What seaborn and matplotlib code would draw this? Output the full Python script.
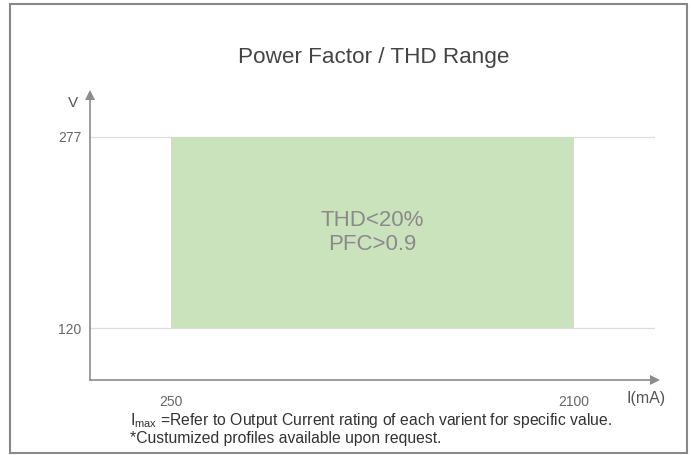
import matplotlib
matplotlib.use("Agg")
import matplotlib.pyplot as plt
import seaborn as sns
import pandas as pd
from matplotlib.patches import Rectangle

# data
current_range = [250, 2100]      # mA
voltage_range = [120, 277]       # V
box_text = ["THD<20%", "PFC>0.9"]
title = "Power Factor / THD Range"
notes = ["=Refer to Output Current rating of each varient for specific value.",
         "*Custumized profiles available upon request."]

sns.set_style("white")
plt.rcParams['font.family'] = ['Liberation Sans', 'DejaVu Sans']
plt.rcParams['mathtext.fontset'] = 'custom'
plt.rcParams['mathtext.rm'] = 'Liberation Sans'

axis_grey = "#8c8c8c"
text_grey = "#666666"

fig = plt.figure(figsize=(6.92, 4.55), dpi=100)
ax = fig.add_axes([90 / 692, 1 - 380 / 455, 565 / 692, 285 / 455])

# green operating area
df = pd.DataFrame({"I": current_range, "V_low": [voltage_range[0]] * 2,
                   "V_high": [voltage_range[1]] * 2})
ax.fill_between(df["I"], df["V_low"], df["V_high"], color="#cbe3bd", lw=0, zorder=2)

ax.set_xlim(-122, 2472)
ax.set_ylim(77.3, 311.5)
ax.set_xticks(current_range)
ax.set_yticks(voltage_range)
ax.set_xticklabels([str(v) for v in current_range])
ax.set_yticklabels([str(v) for v in voltage_range])
ax.tick_params(axis="both", length=0, labelsize=10, labelcolor=text_grey)
ax.tick_params(axis="x", pad=11)
ax.tick_params(axis="y", pad=6)
ax.yaxis.grid(True, color="#dddddd", lw=0.9, zorder=1)
ax.xaxis.grid(False)

for s in ["top", "right"]:
    ax.spines[s].set_visible(False)
for s in ["left", "bottom"]:
    ax.spines[s].set_color(axis_grey)
    ax.spines[s].set_linewidth(1.2)

# arrow heads
ax.plot(1, 0, ">", transform=ax.transAxes, color=axis_grey, ms=7, clip_on=False,
        markeredgewidth=0)
ax.plot(0, 1, "^", transform=ax.transAxes, color=axis_grey, ms=7, clip_on=False,
        markeredgewidth=0)

mid_i = sum(current_range) / 2
mid_v = sum(voltage_range) / 2
ax.text(mid_i, mid_v, "\n".join(box_text), ha="center", va="center",
        fontsize=16, color="#8a8a8a", linespacing=1.15, zorder=3)

fig.text(374 / 692, 1 - 57 / 455, title, ha="center", va="center",
         fontsize=16.2, color="#444444")
fig.text(73 / 692, 1 - 103 / 455, "V", ha="center", va="center",
         fontsize=11, color="#555555")
fig.text(646 / 692, 1 - 398 / 455, "I(mA)", ha="center", va="center",
         fontsize=11.5, color="#555555")

fig.text(130 / 692, 1 - 420 / 455, r"I$_{\mathrm{max}}$ " + notes[0], ha="left",
         va="center", fontsize=11.3, color="#333333")
fig.text(130 / 692, 1 - 438 / 455, notes[1], ha="left", va="center",
         fontsize=11.3, color="#333333")

# frame around the figure
fig.patches.append(Rectangle((9.5 / 692, 1 - 453 / 455), 677.5 / 692, 449.5 / 455,
                             transform=fig.transFigure, fill=False,
                             edgecolor="#888888", lw=1.5))

fig.savefig("out.png", dpi=100)
